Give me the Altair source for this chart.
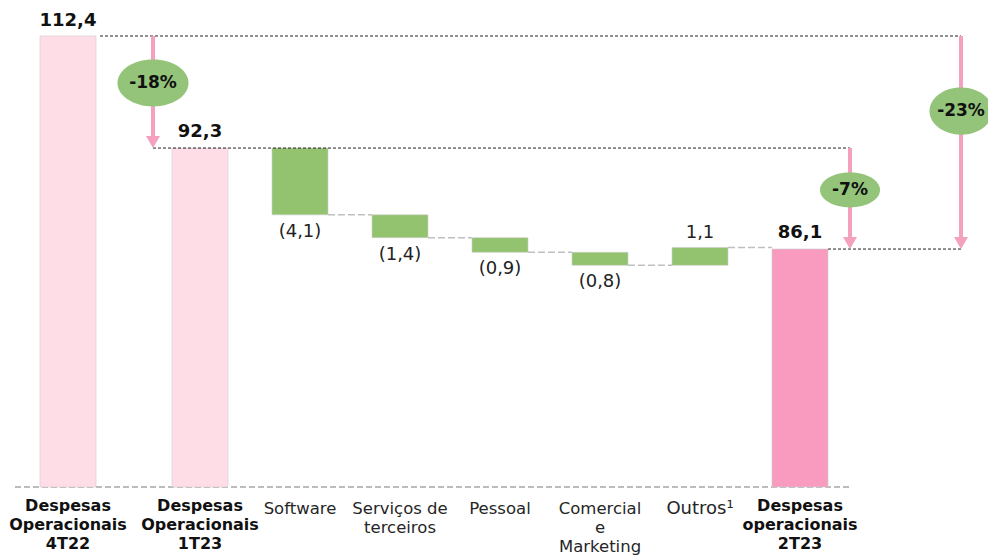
import altair as alt
import pandas as pd

# ---------------- data ----------------
categories = [
    "Despesas\nOperacionais\n4T22",
    "Despesas\nOperacionais\n1T23",
    "Software",
    "Serviços de\nterceiros",
    "Pessoal",
    "Comercial\ne\nMarketing",
    "Outros¹",
    "Despesas\noperacionais\n2T23",
]
kinds = ["total", "total", "delta", "delta", "delta", "delta", "delta", "final"]
values = [112.4, 92.3, -4.1, -1.4, -0.9, -0.8, 1.1, 86.1]
value_labels = ["112,4", "92,3", "(4,1)", "(1,4)", "(0,9)", "(0,8)", "1,1", "86,1"]

ann_text = ["-18%", "-7%", "-23%"]
ann_from = [112.4, 92.3, 112.4]
ann_to = [92.3, 86.1, 86.1]

# visible part of the (truncated) value axis
Y_LO, Y_HI = 71.49, 99.18

# ---------------- table ----------------
rows = []
level = 0.0
for i, (c, k, v, lab) in enumerate(zip(categories, kinds, values, value_labels)):
    if k == "delta":
        start, end = level, level + v
    else:
        start, end = 0.0, v
    level = end
    rows.append(dict(idx=i, cat=c, kind=k, start=start, end=end, label=lab,
                     nxt=categories[i + 1] if i + 1 < len(categories) else c))
df = pd.DataFrame(rows)

FONT = "DejaVu Sans"
PINK_L, GREEN, PINK = "#FFDDE6", "#93C36E", "#F99ABF"
ARROW = "#F4A0BF"
ELL = "#93C47A"

W, H = 970, 451
xscale = alt.Scale(domain=categories, paddingInner=0.44, paddingOuter=0, range=[64, 820])
yscale = alt.Scale(domain=[Y_LO, Y_HI], clamp=True, zero=False, nice=False)


def X(**kw):
    return alt.X("cat:N", scale=xscale, sort=categories, axis=None, **kw)


def Y(f):
    return alt.Y(f, type="quantitative", scale=yscale, axis=None)


color = alt.Color("kind:N", scale=alt.Scale(domain=["total", "delta", "final"],
                                            range=[PINK_L, GREEN, PINK]), legend=None)

base = alt.Chart(df)
layers = []

# baseline
layers.append(base.transform_filter("datum.idx == 0").mark_rule(
    color="#A6A6A6", strokeWidth=1.5, strokeDash=[6, 3]).encode(
    x=alt.value(7), x2=alt.value(841), y=alt.value(H)))

# grey connectors between steps
layers.append(base.transform_filter("datum.idx >= 2 && datum.idx <= 6").mark_rule(
    color="#BFBFBF", strokeWidth=1.5, strokeDash=[7, 3]).encode(
    x=X(bandPosition=1), x2=alt.X2("nxt:N", bandPosition=0), y=Y("end")))

# bars
layers.append(base.transform_filter("datum.idx == 0").mark_bar(
    xOffset=-32, stroke="#CFCFCF", strokeWidth=0.6).encode(
    x=X(), y=Y("start"), y2="end:Q", color=color))
layers.append(base.transform_filter("datum.idx > 0").mark_bar(
    stroke="#CFCFCF", strokeWidth=0.6).encode(
    x=X(), y=Y("start"), y2="end:Q", color=color))

# black dashed reference lines
dash = dict(color="#222222", strokeWidth=1, strokeDash=[3, 2])
layers.append(base.transform_filter("datum.idx == 0").mark_rule(**dash).encode(
    x=X(), x2=alt.value(953), y=Y("end")))
layers.append(base.transform_filter("datum.idx == 1").mark_rule(**dash).encode(
    x=alt.value(145), x2=alt.value(842), y=Y("end")))
layers.append(base.transform_filter("datum.idx == 7").mark_rule(**dash).encode(
    x=X(bandPosition=1), x2=alt.value(953), y=Y("end")))

# value labels
layers.append(base.transform_filter("datum.idx == 0").mark_text(
    font=FONT, fontSize=18, fontWeight="bold", baseline="alphabetic", dy=-10, dx=-32,
    color="#111111").encode(x=X(), y=Y("end"), text="label:N"))
layers.append(base.transform_filter("datum.idx == 1 || datum.idx == 7").mark_text(
    font=FONT, fontSize=18, fontWeight="bold", baseline="alphabetic", dy=-11,
    color="#111111").encode(x=X(), y=Y("end"), text="label:N"))
layers.append(base.transform_filter("datum.kind == 'delta' && datum.end < datum.start").mark_text(
    font=FONT, fontSize=18, baseline="top", dy=8, color="#222222").encode(
    x=X(), y=Y("end"), text="label:N"))
layers.append(base.transform_filter("datum.kind == 'delta' && datum.end > datum.start").mark_text(
    font=FONT, fontSize=18, baseline="alphabetic", dy=-9, color="#222222").encode(
    x=X(), y=Y("end"), text="label:N"))

# category labels
lab = dict(font=FONT, baseline="top", lineBreak="\n", lineHeight=19, align="center")
layers.append(base.transform_filter("datum.idx == 0").mark_text(
    fontSize=16, fontWeight="bold", dx=-32, color="#111111", **lab).encode(
    x=X(), y=alt.value(462), text="cat:N"))
layers.append(base.transform_filter("datum.idx == 1 || datum.idx == 7").mark_text(
    fontSize=16, fontWeight="bold", color="#111111", **lab).encode(
    x=X(), y=alt.value(462), text="cat:N"))
layers.append(base.transform_filter("datum.idx >= 2 && datum.idx <= 5").mark_text(
    fontSize=16.5, color="#262626", **lab).encode(
    x=X(), y=alt.value(465), text="cat:N"))
layers.append(base.transform_filter("datum.idx == 6").mark_text(
    fontSize=18, color="#262626", **lab).encode(
    x=X(), y=alt.value(464), text="cat:N"))


# percentage arrows
def ellipse(r):
    k = 0.5523
    return (f"M-1,0C-1,{-k*r:.3f},{-k:.3f},{-r:.3f},0,{-r:.3f}"
            f"C{k:.3f},{-r:.3f},1,{-k*r:.3f},1,0"
            f"C1,{k*r:.3f},{k:.3f},{r:.3f},0,{r:.3f}"
            f"C{-k:.3f},{r:.3f},-1,{k*r:.3f},-1,0Z")


ann_px = [145, 842, 953]          # arrow x (pixels in plot area)
ann_ey = [47, 154, 75]            # ellipse centre y (pixels)
ann_w = [71, 60, 63]              # ellipse width
ann_r = [0.66, 0.58, 0.75]        # ellipse height / width

for t, a, b, px, ey, w, r in zip(ann_text, ann_from, ann_to, ann_px, ann_ey, ann_w, ann_r):
    adf = pd.DataFrame({"a": [a], "b": [b], "t": [t]})
    ab = alt.Chart(adf)
    layers.append(ab.mark_rule(color=ARROW, strokeWidth=4, y2Offset=-8).encode(
        x=alt.value(px), y=Y("a"), y2="b:Q"))
    layers.append(ab.mark_point(shape="triangle-down", filled=True, size=196, opacity=1,
                                color=ARROW, yOffset=-6).encode(
        x=alt.value(px), y=Y("b")))
    layers.append(ab.mark_point(shape=ellipse(r), filled=True, size=w * w, opacity=1,
                                color=ELL, strokeWidth=0).encode(
        x=alt.value(px), y=alt.value(ey)))
    layers.append(ab.mark_text(font=FONT, fontSize=17, fontWeight="bold", color="#111111",
                               baseline="middle", align="center").encode(
        x=alt.value(px), y=alt.value(ey), text="t:N"))

chart = alt.layer(*layers).properties(
    width=W, height=H,
    autosize=alt.AutoSizeParams(type="none"),
    padding={"left": 0, "top": 28, "right": 10, "bottom": 68},
).configure_view(stroke=None)

chart.save("out.html", embed_options={"renderer": "svg", "actions": False})
